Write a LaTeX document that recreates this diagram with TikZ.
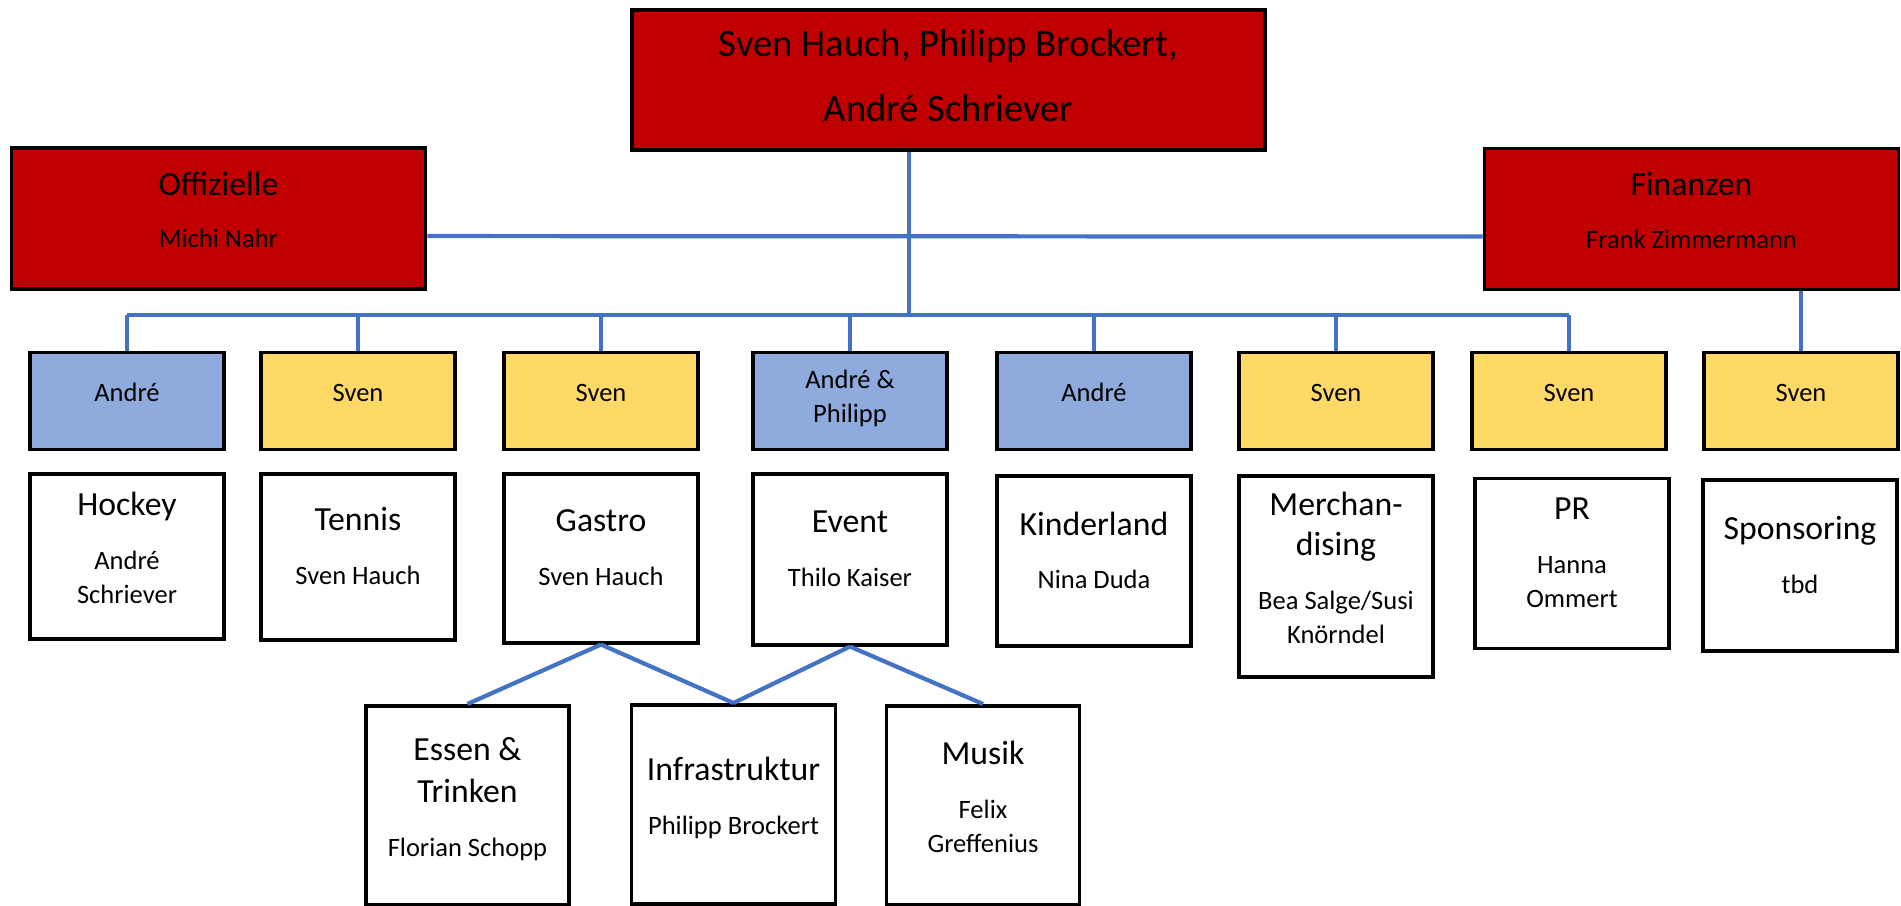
\documentclass[tikz,border=0pt]{standalone}
\usepackage{fontspec}
\setmainfont{Carlito}
\usetikzlibrary{positioning}

\definecolor{leadred}{HTML}{C00000}
\definecolor{areablue}{HTML}{8FAADC}
\definecolor{areayellow}{HTML}{FFD966}
\definecolor{lineblue}{HTML}{4472C4}

\newcommand{\titlefont}{\fontsize{9.6}{11.4}\selectfont}
\newcommand{\namefont}{\fontsize{7.55}{9.7}\selectfont}

\tikzset{
  orgbox/.style={draw, line width=1pt, align=center, inner sep=2pt, font=\namefont, text depth=4.8pt},
  lead/.style={orgbox, fill=leadred, minimum width=4.14cm, minimum height=1.41cm},
  owner/.style={orgbox, minimum width=1.94cm, minimum height=0.97cm},
  area/.style={orgbox, fill=white, anchor=north, minimum width=1.94cm},
  conn/.style={draw=lineblue, line width=1.2pt},
}

\begin{document}
\begin{tikzpicture}
        \useasboundingbox (0,0) rectangle (19.01,9.05);

        % leitung
        \node[orgbox, fill=leadred, minimum width=6.33cm, minimum height=1.40cm,
              font=\fontsize{11}{18.5}\selectfont, text depth=2.6pt] at (9.485, 8.25)(top)
              {Sven Hauch, Philipp Brockert,\\ André Schriever};
        \node[lead] at (2.185, 6.865)(offiz){{\titlefont Offizielle}\\[5.2pt] Michi Nahr};
        \node[lead] at (16.915, 6.86)(finanz){{\titlefont Finanzen}\\[5.2pt] Frank Zimmermann};

        % verantwortliche
        \node[owner, fill=areablue] at (1.27, 5.04)(b1){André};
        \node[owner, fill=areayellow] at (3.58, 5.04)(b2){Sven};
        \node[owner, fill=areayellow] at (6.01, 5.04)(b3){Sven};
        \node[owner, fill=areablue, text depth=2.6pt] at (8.50, 5.04)(b4){André \&\\ Philipp};
        \node[owner, fill=areablue] at (10.94, 5.04)(b5){André};
        \node[owner, fill=areayellow] at (13.36, 5.04)(b6){Sven};
        \node[owner, fill=areayellow] at (15.69, 5.04)(b7){Sven};
        \node[owner, fill=areayellow] at (18.01, 5.04)(b8){Sven};

        % bereiche
        \node[area, minimum height=1.65cm] at (1.27, 4.33)(hockey)
              {{\titlefont Hockey}\\[5.8pt] André\\ Schriever};
        \node[area, minimum height=1.66cm, text depth=6pt] at (3.58, 4.33)(tennis)
              {{\titlefont Tennis}\\[5.6pt] Sven Hauch};
        \node[area, minimum height=1.69cm, text depth=6pt] at (6.01, 4.33)(gastro)
              {{\titlefont Gastro}\\[5.6pt] Sven Hauch};
        \node[area, minimum height=1.71cm, text depth=6pt] at (8.50, 4.33)(event)
              {{\titlefont Event}\\[5.6pt] Thilo Kaiser};
        \node[area, minimum height=1.70cm, text depth=6pt] at (10.94, 4.31)(kinder)
              {{\titlefont Kinderland}\\[5.6pt] Nina Duda};
        \node[area, minimum height=2.01cm] at (13.36, 4.31)(merch)
              {{\titlefont Merchan-}\\[1.7pt] {\titlefont dising}\\[5.8pt] Bea Salge/Susi\\ Knörndel};
        \node[area, minimum height=1.70cm, text depth=6pt] at (15.72, 4.285)(pr)
              {{\titlefont PR}\\[5.4pt] Hanna\\ Ommert};
        \node[area, minimum height=1.71cm, text depth=6pt] at (18.00, 4.27)(spons)
              {{\titlefont Sponsoring}\\[5.6pt] tbd};

        % unterbereiche
        \node[area, minimum width=2.03cm, minimum height=1.99cm, text depth=4.8pt] at (4.675, 2.01)(essen)
              {{\titlefont Essen \&}\\[2.3pt] {\titlefont Trinken}\\[5.8pt] Florian Schopp};
        \node[area, minimum width=2.04cm, minimum height=1.99cm, text depth=4.8pt] at (7.335, 2.02)(infra)
              {{\titlefont Infrastruktur}\\[5.8pt] Philipp Brockert};
        \node[area, minimum width=1.93cm, minimum height=1.99cm] at (9.83, 2.01)(musik)
              {{\titlefont Musik}\\[5.8pt] Felix\\ Greffenius};

        % verbindungen
        \coordinate (bus) at (9.09, 5.90);
        \draw[conn] ([yshift=-5pt]offiz.east) -- ([yshift=-5pt]finanz.west);
        \draw[conn] (top.south -| bus) -- (bus);
        \draw[conn] (bus -| b1.north) -- (bus -| b7.north);
        \foreach \i in {1,...,7}
            \draw[conn] (bus -| b\i.north) -- (b\i.north);
        \draw[conn] (finanz.south -| b8.north) -- (b8.north);

        \draw[conn] (gastro.south) -- (essen.north);
        \draw[conn] (gastro.south) -- (infra.north);
        \draw[conn] (event.south) -- (infra.north);
        \draw[conn] (event.south) -- (musik.north);
    \end{tikzpicture}
\end{document}
